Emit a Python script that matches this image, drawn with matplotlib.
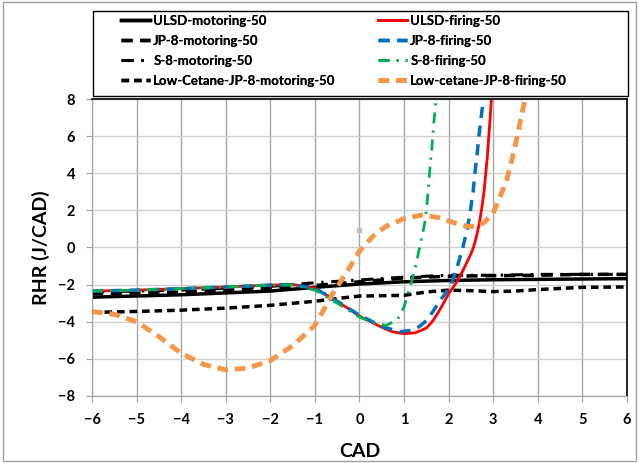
import numpy as np
import matplotlib
matplotlib.use("Agg")
import matplotlib.pyplot as plt
from matplotlib.patches import Rectangle

plt.rcParams['font.family'] = ['Lato', 'DejaVu Sans']
plt.rcParams['font.weight'] = 'bold'

# motoring runs (black)
x_ulsd_mot = [-6, -4, -2, -1, 0, 1, 2, 3, 4, 5, 6]
y_ulsd_mot = [-2.68, -2.55, -2.35, -2.15, -1.97, -1.85, -1.78, -1.74, -1.72, -1.7, -1.68]

x_jp8_mot = [-6, -4, -2, -1, 0, 1, 2, 3, 4, 5, 6]
y_jp8_mot = [-2.5, -2.4, -2.2, -2.05, -1.85, -1.65, -1.55, -1.52, -1.5, -1.45, -1.45]

x_s8_mot = [-6, -4, -2, -1, 0, 1, 2, 3, 4, 5, 6]
y_s8_mot = [-2.4, -2.3, -2.1, -1.9, -1.75, -1.6, -1.5, -1.5, -1.45, -1.45, -1.45]

x_lc_mot = [-6, -5, -4, -3, -2, -1, -0.5, 0, 0.5, 1, 1.5, 2, 2.5, 3, 3.5, 4, 5, 6]
y_lc_mot = [-3.5, -3.45, -3.38, -3.27, -3.12, -2.9, -2.75, -2.62, -2.6, -2.58, -2.4, -2.3, -2.33, -2.38, -2.35, -2.27, -2.15, -2.13]

# firing runs
x_ulsd_fir = [-6, -5, -4, -3, -2, -1.5, -1, -0.5, 0, 0.5, 0.75, 1.0, 1.25, 1.5, 1.65, 1.8, 1.9, 2.0, 2.1, 2.2,
              2.3, 2.4, 2.5, 2.55, 2.6, 2.65, 2.7, 2.75, 2.8, 2.83, 2.87, 2.9, 2.93, 2.96]
y_ulsd_fir = [-2.35, -2.3, -2.22, -2.13, -2.03, -2.0, -2.2, -2.9, -3.7, -4.3, -4.55, -4.65, -4.6, -4.35, -3.95, -3.37, -2.95, -2.5, -2.15, -1.8,
              -1.35, -0.85, -0.35, -0.05, 0.35, 0.85, 1.45, 2.2, 3.1, 3.9, 4.9, 5.9, 6.9, 8.0]

x_jp8_fir = [-6, -5, -4, -3, -2, -1.5, -1, -0.5, 0, 0.5, 0.9, 1.2, 1.35, 1.5, 1.65, 1.82, 1.95, 2.06, 2.2, 2.32,
             2.42, 2.49, 2.55, 2.59, 2.64, 2.68, 2.73, 2.78]
y_jp8_fir = [-2.35, -2.3, -2.22, -2.13, -2.03, -2.0, -2.2, -2.9, -3.65, -4.25, -4.55, -4.45, -4.25, -3.95, -3.45, -2.83, -2.4, -2.0, -1.0, 0.0,
             1.0, 2.0, 3.0, 4.0, 5.0, 6.0, 7.0, 8.0]

x_s8_fir = [-6, -5, -4, -3, -2, -1.5, -1, -0.5, 0, 0.3, 0.6, 0.85, 0.92, 1.0, 1.1, 1.2, 1.28, 1.35, 1.42, 1.48,
            1.54, 1.59, 1.63, 1.66, 1.72]
y_s8_fir = [-2.35, -2.3, -2.22, -2.13, -2.03, -2.02, -2.3, -3.0, -3.75, -4.05, -4.2, -3.9, -3.6, -3.2, -2.4, -1.6, -0.8, 0.0, 0.8, 1.5,
            3.0, 4.5, 5.5, 6.5, 8.0]

x_lc_fir = [-6, -5.5, -5, -4.5, -4, -3.5, -3, -2.5, -2, -1.5, -1, -0.6, -0.2, 0, 0.3, 0.6, 1.0, 1.4, 1.8, 2.1,
            2.4, 2.6, 2.8, 3.0, 3.15, 3.3, 3.45, 3.55, 3.65, 3.72]
y_lc_fir = [-3.45, -3.6, -4.0, -4.8, -5.7, -6.3, -6.6, -6.5, -6.1, -5.3, -4.2, -2.5, -1.0, -0.2, 0.6, 1.15, 1.55, 1.75, 1.6, 1.35,
            1.15, 1.12, 1.35, 1.85, 2.7, 3.6, 5.0, 6.1, 7.3, 8.0]

xticks = list(range(-6, 7))
yticks = list(range(-8, 9, 2))

fig = plt.figure(figsize=(6.39, 4.63), dpi=100)
ax = fig.add_axes([0.144, 0.145, 0.837, 0.641])

h = []
h += ax.plot(x_ulsd_mot, y_ulsd_mot, color='black', lw=2.5, label='ULSD-motoring-50')
h += ax.plot(x_jp8_mot, y_jp8_mot, color='black', lw=2.5, dashes=(3.2, 2.2), label='JP-8-motoring-50')
h += ax.plot(x_s8_mot, y_s8_mot, color='black', lw=2.2, dashes=(4, 2.5, 0.8, 2.5), label='S-8-motoring-50')
h += ax.plot(x_lc_mot, y_lc_mot, color='black', lw=2.5, dashes=(2.2, 1.4), label='Low-Cetane-JP-8-motoring-50')
h += ax.plot(x_ulsd_fir, y_ulsd_fir, color='#FF0000', lw=2.0, label='ULSD-firing-50')
h += ax.plot(x_jp8_fir, y_jp8_fir, color='#0070C0', lw=2.5, dashes=(3.2, 2.2), label='JP-8-firing-50')
h += ax.plot(x_s8_fir, y_s8_fir, color='#00B050', lw=2.0, dashes=(4, 2.5, 0.8, 2.5), label='S-8-firing-50')
h += ax.plot(x_lc_fir, y_lc_fir, color='#F79646', lw=3.5, dashes=(2.2, 1.4), label='Low-cetane-JP-8-firing-50')

# stray marker near the origin
ax.plot([0], [0.95], 's', color='#C0C0C0', ms=3)

ax.set_xlim(-6, 6)
ax.set_ylim(-8, 8)
ax.set_xticks(xticks)
ax.set_yticks(yticks)
ax.tick_params(labelsize=10.5, length=4, color='#A0A0A0', pad=8)
for lab in ax.get_xticklabels() + ax.get_yticklabels():
    lab.set_fontweight('bold')
ax.xaxis.grid(True, color='#A6A6A6', lw=1.0)
ax.yaxis.grid(True, color='#D0D0D0', lw=1.0)
ax.set_axisbelow(True)
for s in ['left', 'bottom']:
    ax.spines[s].set_color('#A0A0A0')
for s in ['top', 'right']:
    ax.spines[s].set_color('black')
    ax.spines[s].set_linewidth(1.2)

ax.set_xlabel('CAD', fontsize=14, fontweight='bold', labelpad=12)
ax.set_ylabel('RHR (J/CAD)', fontsize=14, fontweight='bold', labelpad=6)

# two legend columns placed separately, one shared frame
W, H = 639.0, 463.0
for cols, x0 in [(h[:4], 121), (h[4:], 378)]:
    leg = fig.legend(cols, [l.get_label() for l in cols], loc='upper left',
                     bbox_to_anchor=(x0 / W, 1 - 15 / H), frameon=False,
                     fontsize=9.5, handlelength=2.2, handletextpad=0.25,
                     labelspacing=0.6, borderpad=0, borderaxespad=0)
    for t in leg.get_texts():
        t.set_fontweight('bold')
    fig.add_artist(leg)

fig.patches.append(Rectangle((93 / W, 1 - 96 / H), 535 / W, 85 / H, transform=fig.transFigure,
                             fill=False, edgecolor='black', lw=1.0))
fig.patches.append(Rectangle((0.005, 0.005), 0.99, 0.99, transform=fig.transFigure,
                             fill=False, edgecolor='#A0A0A0', lw=1.0))

fig.savefig('out.png', dpi=100)
